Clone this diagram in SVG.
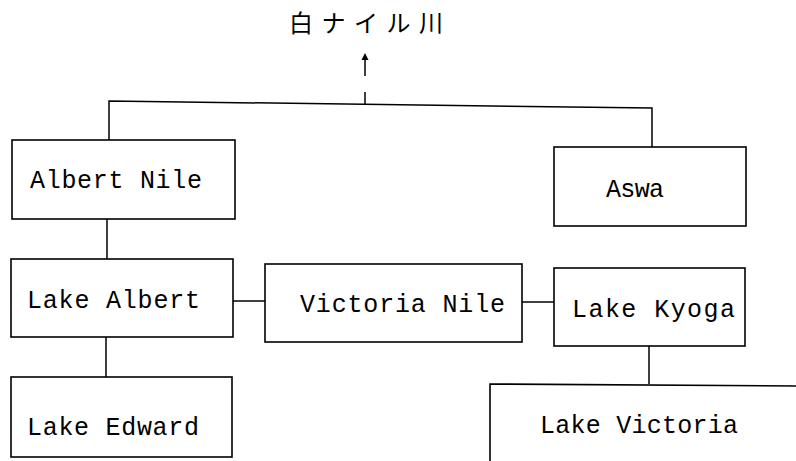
<svg xmlns="http://www.w3.org/2000/svg" width="796" height="461" viewBox="0 0 796 461">
<style>
.box{fill:#fff;stroke:#000;stroke-width:1.6}
.lbl{font-family:"Liberation Mono","DejaVu Sans Mono",monospace;font-size:25px;fill:#000}
.con{stroke:#000;stroke-width:1.5;fill:none}
.title{font-family:"Noto Sans CJK JP","Noto Sans CJK SC",sans-serif;font-size:24px;fill:#000}
</style>
<g id="title">
<text class="title" x="289" y="32" textLength="154" lengthAdjust="spacing">白ナイル川</text>
</g>
<g id="connectors">
<line class="con" x1="365" y1="76" x2="365" y2="58"/>
<path d="M361.5,60 L365,53 L368.5,60 Z" fill="#000"/>
<line class="con" x1="365" y1="92" x2="365" y2="104"/>
<polyline class="con" points="109,140 109,101 652,108 652,147"/>
<line class="con" x1="107" y1="219" x2="107" y2="259"/>
<line class="con" x1="106" y1="337" x2="106" y2="377"/>
<line class="con" x1="233" y1="301" x2="265" y2="301"/>
<line class="con" x1="522" y1="302" x2="554" y2="302"/>
<line class="con" x1="649" y1="346" x2="649" y2="384"/>
</g>
<g id="albert-nile">
<rect class="box" x="12" y="140" width="223" height="79"/>
<text class="lbl" x="30" y="188" textLength="172" lengthAdjust="spacing">Albert Nile</text>
</g>
<g id="aswa">
<rect class="box" x="554" y="147" width="192" height="79"/>
<text class="lbl" x="606" y="197" textLength="58" lengthAdjust="spacing">Aswa</text>
</g>
<g id="lake-albert">
<rect class="box" x="11" y="259" width="222" height="78"/>
<text class="lbl" x="27" y="308" textLength="173" lengthAdjust="spacing">Lake Albert</text>
</g>
<g id="victoria-nile">
<rect class="box" x="265" y="264" width="257" height="78"/>
<text class="lbl" x="300" y="312" textLength="205" lengthAdjust="spacing">Victoria Nile</text>
</g>
<g id="lake-kyoga">
<rect class="box" x="554" y="268" width="191" height="78"/>
<text class="lbl" x="572" y="317" textLength="163" lengthAdjust="spacing">Lake Kyoga</text>
</g>
<g id="lake-edward">
<rect class="box" x="11" y="377" width="221" height="80"/>
<text class="lbl" x="27" y="435" textLength="172" lengthAdjust="spacing">Lake Edward</text>
</g>
<g id="lake-victoria">
<path class="box" d="M490,461 L490,384 L800,386"/>
<text class="lbl" x="540" y="433" textLength="198" lengthAdjust="spacing">Lake Victoria</text>
</g>
</svg>
